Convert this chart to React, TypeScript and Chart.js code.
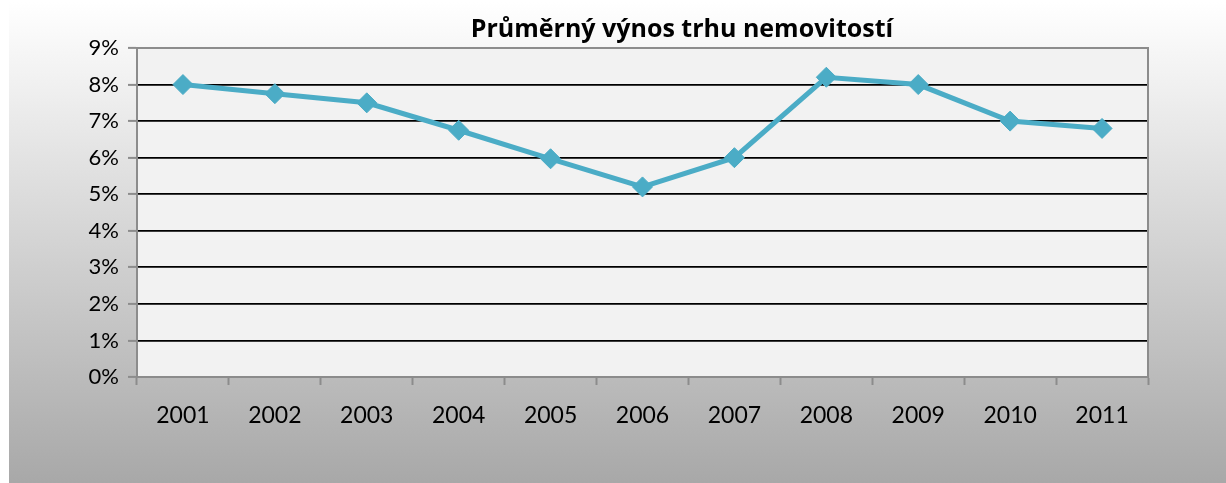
import React, { useEffect, useRef } from "react";
import { Chart, registerables } from "chart.js";

Chart.register(...registerables);

const TITLE = "Průměrný výnos trhu nemovitostí";
const YEARS = ["2001", "2002", "2003", "2004", "2005", "2006", "2007", "2008", "2009", "2010", "2011"];
const YIELD_PCT = [8.0, 7.75, 7.5, 6.75, 5.97, 5.2, 6.0, 8.2, 8.0, 7.0, 6.8];
const Y_MIN = 0;
const Y_MAX = 9;

const LINE_COLOR = "#4bacc6";
const AXIS_GRAY = "#8c8c8c";

const bgPlugin = {
  id: "bgPlugin",
  beforeDraw(chart: any) {
    const { ctx, width, height, chartArea } = chart;
    ctx.save();
    const g = ctx.createLinearGradient(0, 0, 0, height);
    g.addColorStop(0, "#ffffff");
    g.addColorStop(1, "#a8a8a8");
    ctx.fillStyle = g;
    ctx.fillRect(0, 0, width, height);
    ctx.fillStyle = "#f2f2f2";
    ctx.fillRect(chartArea.left, chartArea.top, chartArea.right - chartArea.left, chartArea.bottom - chartArea.top);
    ctx.restore();
  },
  afterDraw(chart: any) {
    const { ctx } = chart;
    ctx.save();
    ctx.fillStyle = "#000";
    ctx.font = "bold 25px 'Open Sans', sans-serif";
    ctx.textAlign = "center";
    ctx.textBaseline = "alphabetic";
    ctx.fillText(TITLE, 673, 35);
    ctx.restore();
  },
};

const borderPlugin = {
  id: "borderPlugin",
  beforeDatasetsDraw(chart: any) {
    const { ctx, chartArea } = chart;
    ctx.save();
    ctx.strokeStyle = AXIS_GRAY;
    ctx.lineWidth = 2;
    ctx.beginPath();
    ctx.moveTo(chartArea.left, chartArea.top);
    ctx.lineTo(chartArea.right, chartArea.top);
    ctx.lineTo(chartArea.right, chartArea.bottom);
    ctx.stroke();
    ctx.restore();
  },
};

export default function App() {
  const ref = useRef<HTMLCanvasElement>(null);
  useEffect(() => {
    if (!ref.current) return;
    const chart = new Chart(ref.current, {
      type: "line",
      data: {
        labels: YEARS,
        datasets: [
          {
            data: YIELD_PCT,
            borderColor: LINE_COLOR,
            backgroundColor: LINE_COLOR,
            borderWidth: 5,
            pointStyle: "rectRot",
            pointRadius: 10,
            pointBorderWidth: 1,
            pointBorderColor: LINE_COLOR,
            pointBackgroundColor: LINE_COLOR,
            tension: 0,
          },
        ],
      },
      options: {
        animation: false,
        responsive: true,
        maintainAspectRatio: false,
        layout: { padding: { left: 0, top: 46, right: 78, bottom: 0 } },
        plugins: {
          legend: { display: false },
          title: { display: false },
          tooltip: { enabled: false },
        },
        scales: {
          x: {
            offset: true,
            grid: {
              offset: true,
              drawOnChartArea: false,
              drawTicks: true,
              tickLength: 8,
              tickColor: AXIS_GRAY,
              tickWidth: 2,
            },
            border: { color: AXIS_GRAY, width: 2 },
            ticks: {
              color: "#000",
              padding: 17,
              maxRotation: 0,
              font: { family: "Lato, 'Open Sans', sans-serif", size: 23 },
            },
            afterFit(scale: any) {
              scale.height = 106;
            },
          },
          y: {
            min: Y_MIN,
            max: Y_MAX,
            grid: {
              color: (c: any) => (c.tick && (c.tick.value === Y_MAX || c.tick.value === Y_MIN) ? "rgba(0,0,0,0)" : "#000"),
              lineWidth: 1.8,
              tickLength: 9,
              tickColor: AXIS_GRAY,
              tickWidth: 2,
            },
            border: { color: AXIS_GRAY, width: 2 },
            ticks: {
              stepSize: 1,
              color: "#000",
              padding: 9,
              font: { family: "Lato, 'Open Sans', sans-serif", size: 22 },
              callback: (v: any) => `${v}%`,
            },
            afterFit(scale: any) {
              scale.width = 128;
            },
          },
        },
      },
      plugins: [bgPlugin, borderPlugin],
    });
    return () => chart.destroy();
  }, []);
  return (
    <div style={{ position: "fixed", left: 9, top: 2, right: 0, bottom: 0 }}>
      <canvas ref={ref} />
    </div>
  );
}
